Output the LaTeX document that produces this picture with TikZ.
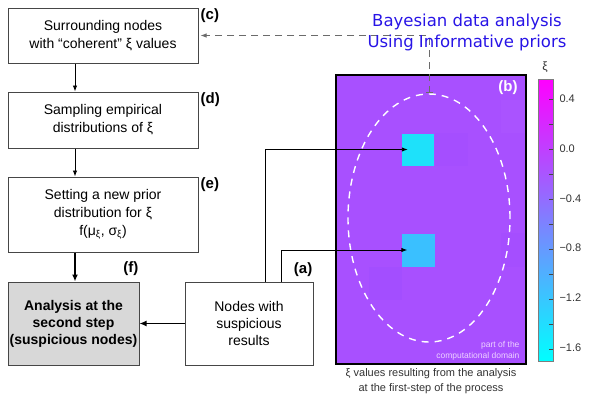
\documentclass[tikz,border=0pt]{standalone}
\usepackage{fontspec}
\setmainfont{Liberation Sans}
\newfontfamily\titlefont{DejaVu Sans}
\usetikzlibrary{shapes,arrows.meta,positioning,calc}

\definecolor{domainpurple}{RGB}{168,80,255}
\definecolor{hotup}{RGB}{30,225,250}
\definecolor{hotlow}{RGB}{58,192,255}
\definecolor{titleblue}{RGB}{40,20,230}
\definecolor{boxgray}{RGB}{216,216,216}
\definecolor{edgegray}{RGB}{70,70,70}

\begin{document}
\begin{tikzpicture}[x=1pt, y=-1pt,
    stepbox/.style={draw=edgegray, line width=1pt, fill=white, align=center, inner sep=0pt,
        font=\fontsize{14}{18}\selectfont},
    tag/.style={font=\fontsize{15}{18}\selectfont\bfseries, inner sep=1pt},
    flow/.style={line width=0.9pt, -{Latex[length=6pt,width=4.5pt]}},
    bigflow/.style={line width=1.8pt, -{Latex[length=7pt,width=6pt]}}]
    \useasboundingbox (0,0) rectangle (592,400);

    % flow chart
    \node[stepbox, minimum width=190, minimum height=55] (c) at (103,35.5) {Surrounding nodes\\with ``coherent'' ξ values};
    \node[stepbox, minimum width=190, minimum height=56] (d) at (103,120) {Sampling empirical\\distributions of ξ};
    \node[stepbox, minimum width=190, minimum height=75] (e) at (103,214.5) {Setting a new prior\\distribution for ξ\\f(μ\textsubscript{ξ}, σ\textsubscript{ξ})};
    \node[stepbox, fill=boxgray, minimum width=131, minimum height=83, font=\fontsize{14}{17}\selectfont\bfseries] (f) at (73.5,323.5) {Analysis at the\\second step\\(suspicious nodes)};
    \node[stepbox, minimum width=128, minimum height=83, font=\fontsize{14}{17}\selectfont] (a) at (249,323.5) {Nodes with\\suspicious\\results};

    \node[tag, anchor=north west] at ([xshift=1pt]c.north east) {(c)};
    \node[tag, anchor=north west] at ([xshift=1pt]d.north east) {(d)};
    \node[tag, anchor=north west] at ([xshift=1pt]e.north east) {(e)};
    \node[tag, anchor=south east] at ([yshift=5pt]f.north east) {(f)};
    \node[tag, anchor=south east] at ([yshift=4pt]a.north east) {(a)};

    \draw[flow] ([xshift=1.5pt]c.south -| f.north) -- ([xshift=1.5pt]d.north -| f.north);
    \draw[flow] ([xshift=1.5pt]d.south -| f.north) -- ([xshift=1.5pt]e.north -| f.north);
    \draw[bigflow] ([xshift=1.5pt]e.south -| f.north) -- ([xshift=1.5pt]f.north);
    \draw[bigflow] (a) -- (f);

    % computational domain
    \fill[domainpurple] (336,75) rectangle (526,364);
    \fill[domainpurple!97!blue] (369,267) rectangle (402,300);
    \fill[domainpurple!98!blue] (435,133) rectangle (468,166);
    \fill[domainpurple!98!blue] (501,233) rectangle (526,267);
    \fill[domainpurple!98!white] (501,100) rectangle (526,133);
    \node[fill=hotup, minimum size=32, inner sep=0pt] (hotA) at (418,149.5) {};
    \node[fill=hotlow, minimum size=33, inner sep=0pt] (hotB) at (418,250) {};
    \draw[line width=2pt] (336,75) rectangle (526,364);
    \node[draw=white, line width=1.4pt, dash pattern=on 7pt off 6pt, ellipse,
        minimum width=162, minimum height=248] (region) at (429,218) {};
    \node[font=\fontsize{15}{18}\selectfont\bfseries, text=white] at (508,88) {(b)};
    \node[font=\fontsize{8.5}{11}\selectfont, text={rgb,255:red,238;green,210;blue,255}, align=right, anchor=east] at (523,351) {part of the\\computational domain};

    \draw[flow] ([xshift=16pt]a.north) |- ([xshift=6pt]hotA.west);
    \draw[flow] ([xshift=32pt]a.north) |- ([xshift=6pt]hotB.west);
    \draw[edgegray!80, line width=1pt, dash pattern=on 7pt off 5pt, {Bar[width=7pt]}-{Latex[length=6pt,width=4.5pt]}, shorten >=2pt] (region.north) |- (c.east);

    \node[font=\fontsize{11}{15}\selectfont, text=black!80, align=center] at (431,381.5) {ξ values resulting from the analysis\\at the first-step of the process};

    % colour bar
    \shade[top color=magenta, bottom color=cyan] (538,79) rectangle (553,361);
    \draw[edgegray!70, line width=0.6pt] (538,79) rectangle (553,361);
    \foreach \y in {99,124,...,349}
        \draw[edgegray, line width=0.6pt] (549,\y) -- (553,\y);
    \foreach \v/\y in {0.4/99, 0.0/149, −0.4/199, −0.8/248, −1.2/298, −1.6/348}
        \node[font=\fontsize{11}{13}\selectfont, text=black!80, anchor=west] at (556,\y) {\v};
    \node[font=\fontsize{12}{14}\selectfont, text=black!80] at (545,67) {ξ};

    % title
    \node[font=\titlefont\fontsize{16.5}{21}\selectfont, text=titleblue, align=center] at (467,32) {Bayesian data analysis\\Using Informative priors};
\end{tikzpicture}
\end{document}
